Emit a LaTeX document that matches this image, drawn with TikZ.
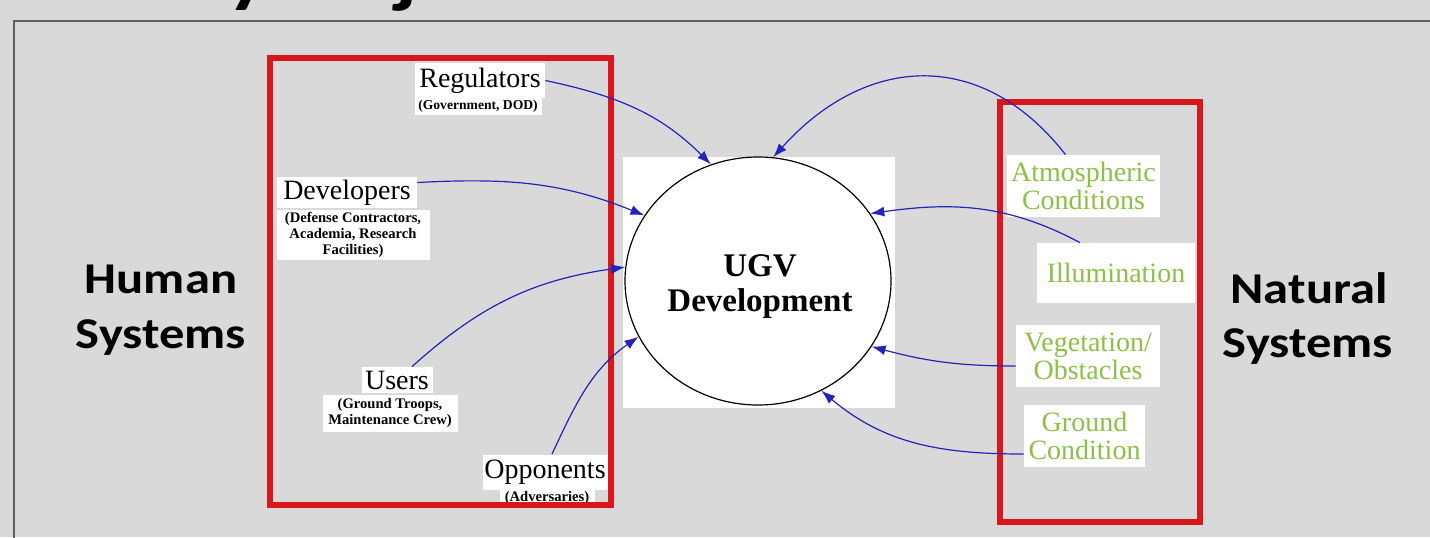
\documentclass[tikz,border=0pt]{standalone}
\usepackage{fontspec}
\setmainfont{Liberation Serif}
\newfontfamily\calb{Carlito}[FakeStretch=1.15]
\usetikzlibrary{shapes.geometric,arrows.meta,calc}
\definecolor{bg}{RGB}{217,217,217}
\definecolor{framec}{RGB}{95,95,95}
\definecolor{redc}{RGB}{218,22,28}
\definecolor{bluec}{RGB}{35,35,185}
\definecolor{greenc}{RGB}{140,192,70}
\begin{document}
\begin{tikzpicture}[x=0.5pt,y=0.5pt,
  wbox/.style={fill=white, inner sep=0pt, text=black},
  lbl/.style={font=\fontsize{14}{14}\selectfont},
  sublbl/.style={font=\bfseries\fontsize{7.3}{8}\selectfont, align=center},
  glbl/.style={fill=white, inner sep=0pt, text=greenc, align=center, font=\fontsize{14}{14}\selectfont},
  sys/.style={font=\calb\bfseries\fontsize{22}{27}\selectfont, anchor=base, inner sep=0pt},
  redbox/.style={draw=redc, line width=3pt},
  arr/.style={draw=bluec, line width=0.6pt, -{Latex[length=7pt,width=5pt]}},
]
\useasboundingbox (0,0) rectangle (1430,-537);
\fill[bg] (0,0) rectangle (1430,-537);
\draw[framec, line width=1pt] (14,-600) |- (1500,-21);
\node[font=\calb\bfseries\fontsize{38}{38}\selectfont, anchor=base west, inner sep=0pt] (title) at (62,2) {Study Objective};

\node[sys] (hum1) at (161,-293) {Human};
\node[sys] (hum2) at (161,-348) {Systems};
\node[sys] (nat1) at (1309,-303) {Natural};
\node[sys] (nat2) at (1308,-357) {Systems};

% centre
\node[fill=white, minimum width=136pt, minimum height=125.5pt, inner sep=0pt] (sq) at (759,-282.5) {};
\node[ellipse, draw=black, line width=0.6pt, fill=white, minimum width=133pt, minimum height=124pt, inner sep=0pt] (ugv) at (758,-281) {};
\node[font=\bfseries\fontsize{16.5}{17.5}\selectfont, align=center, inner sep=0pt] (ugvt) at (760,-287) {UGV\\Development};

% human side labels
\node[wbox, lbl, minimum width=65pt, minimum height=17.5pt] (reg) at (480,-80.5) {Regulators};
\node[wbox, font=\bfseries\fontsize{6.8}{8}\selectfont, minimum width=63.5pt, minimum height=8.5pt] (regs) at (478,-106.5) {(Government, DOD)};
\node[wbox, lbl, minimum width=70pt, minimum height=15.5pt] (dev) at (347,-192.5) {Developers};
\node[wbox, sublbl, minimum width=76.5pt, minimum height=25pt] (devs) at (353,-235) {(Defense Contractors,\\Academia, Research\\Facilities)};
\node[wbox, lbl, minimum width=35.5pt, minimum height=13pt] (usr) at (397,-380) {Users};
\node[wbox, sublbl, minimum width=67.5pt, minimum height=18.5pt] (usrs) at (390,-413) {(Ground Troops,\\Maintenance Crew)};
\node[wbox, lbl, minimum width=62.5pt, minimum height=17.5pt] (opp) at (545,-472) {Opponents};
\node[wbox, sublbl, minimum width=47.5pt, minimum height=7.5pt] (opps) at (547,-497.5) {(Adversaries)};

% natural side labels
\node[glbl, minimum width=76.5pt, minimum height=31pt] (atm) at (1083.5,-186) {Atmospheric\\Conditions};
\node[glbl, minimum width=79pt, minimum height=30pt] (ill) at (1116,-273) {Illumination};
\node[glbl, minimum width=72pt, minimum height=31pt] (veg) at (1088,-356) {Vegetation/\\Obstacles};
\node[glbl, minimum width=60.5pt, minimum height=31pt] (gnd) at (1084.5,-436) {Ground\\Condition};

% red frames
\draw[redbox] (270,-58) rectangle (611,-505);
\draw[redbox] (1000,-102) rectangle (1200,-522);

% connectors
\draw[arr] (reg.east) to[out=-12, in=135] (ugv.112);
\draw[arr] ([yshift=5pt]dev.east) to[out=3, in=158] (ugv.150);
\draw[arr] ([xshift=7.5pt]usr.north) to[out=42, in=-172] (ugv.174);
\draw[arr] ([xshift=3.5pt]opp.north) to[out=65, in=-145] (ugv.205);
\draw[arr] ([xshift=-9pt]atm.north) to[out=128, in=48, looseness=1.2] (ugv.83);
\draw[arr] ([xshift=-18pt]ill.north) to[out=152, in=8] (ugv.31);
\draw[arr] ([yshift=-5pt]veg.west) to[out=180, in=-15] (ugv.-30);
\draw[arr] ([yshift=-9pt]gnd.west) to[out=180, in=-40] (ugv.-60);
\end{tikzpicture}
\end{document}
